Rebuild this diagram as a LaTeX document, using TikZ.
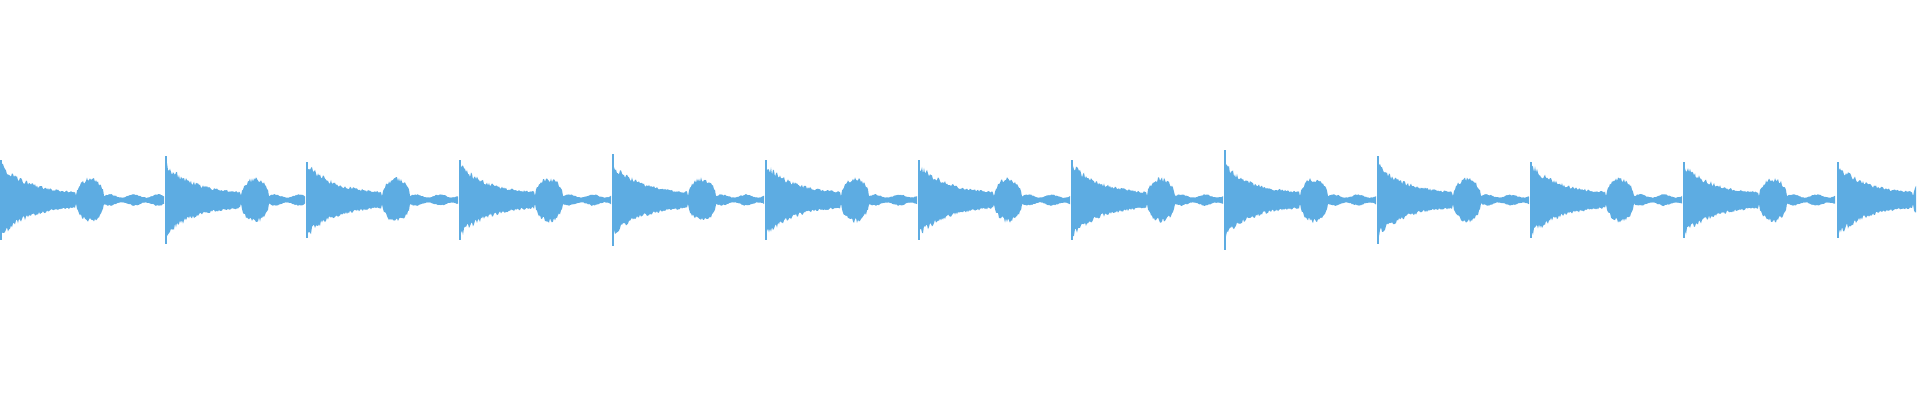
\documentclass[tikz,border=0pt]{standalone}
\usepackage{xcolor}
\definecolor{wave}{HTML}{5DACE2}
\begin{document}
\begin{tikzpicture}[x=1pt, y=1pt,
    declare function={env(\t)=(\t<76) ? (6+30*exp(-\t/28)) : ((\t<104) ? (4+17*sqrt(abs(sin((\t-76)/28*180)))) : (4+1.5*sin((\t-104)*15)));},
    wavefill/.style={fill=wave, draw=none}]
    \useasboundingbox (0,0) rectangle (1920,400);
    \pgfmathsetseed{7}

    % --- BEATS ---
    \foreach \s/\len/\pk in {0/165/40, 165/141/44, 306/153/38, 459/153/40, 612/153/46,
                             765/153/40, 918/153/40, 1071/153/40, 1224/153/50,
                             1377/153/44, 1530/153/38, 1683/153/38, 1837/80/38} {
        \fill[wavefill] plot[domain=0:\len-1, samples=\len, variable=\t]
                ({\s+\t}, {200+env(\t)*(0.85+0.25*rnd)})
            -- plot[domain=\len-1:0, samples=\len, variable=\t]
                ({\s+\t}, {200-env(\t)*(0.85+0.25*rnd)}) -- cycle;
        \fill[wavefill] (\s,200-\pk) rectangle (\s+2,200+\pk);
    }
\end{tikzpicture}
\end{document}
